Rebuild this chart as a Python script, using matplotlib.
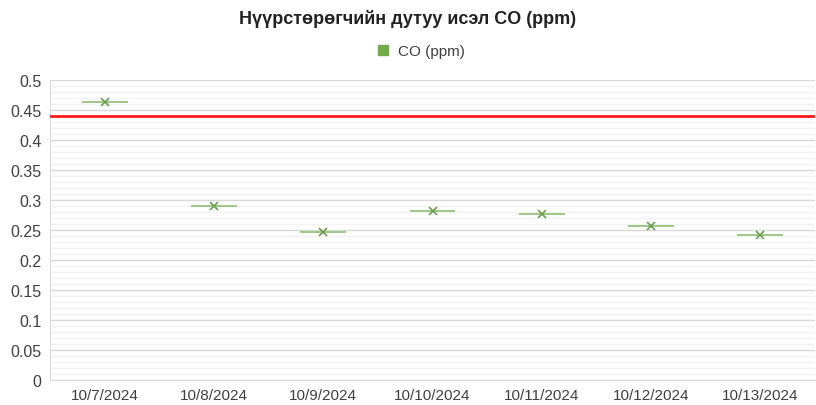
import matplotlib
matplotlib.use("Agg")
import matplotlib.pyplot as plt
import numpy as np
from matplotlib.lines import Line2D
from matplotlib.ticker import MultipleLocator

plt.rcParams["font.family"] = ["Liberation Sans", "DejaVu Sans"]

dates = ["10/7/2024", "10/8/2024", "10/9/2024", "10/10/2024",
         "10/11/2024", "10/12/2024", "10/13/2024"]
co_ppm = [0.463, 0.290, 0.247, 0.282, 0.277, 0.257, 0.242]
limit = 0.44
y_ticks = [0, 0.05, 0.1, 0.15, 0.2, 0.25, 0.3, 0.35, 0.4, 0.45, 0.5]

GREEN = "#70AD47"
LINE_GREEN = "#8DBF72"

fig = plt.figure(figsize=(8.16, 4.06), dpi=100)
ax = fig.add_axes([0.0613, 0.0616, 0.9375, 0.739])

x = np.arange(len(dates))
ax.hlines(co_ppm, x - 0.21, x + 0.21, color=LINE_GREEN, linewidth=1.2, zorder=3)
ax.plot(x, co_ppm, linestyle="none", marker="x", markersize=6,
        markeredgewidth=1.2, color="#6A9F50", zorder=4)
ax.axhline(limit, color="#FF1A1A", linewidth=2, zorder=5)

ax.set_xlim(-0.5, len(dates) - 0.5)
ax.set_ylim(0, 0.5)
ax.set_yticks(y_ticks)
ax.set_yticklabels([f"{v:g}" for v in y_ticks])
ax.yaxis.set_minor_locator(MultipleLocator(0.01))
ax.grid(which="major", axis="y", color="#D9D9D9", linewidth=1)
ax.grid(which="minor", axis="y", color="#F2F2F2", linewidth=1)
ax.set_axisbelow(True)

ax.set_xticks(x)
ax.set_xticklabels(dates)
ax.tick_params(axis="both", which="both", length=0, labelsize=11.5,
               labelcolor="#404040")
ax.tick_params(axis="x", pad=6, labelsize=11)
ax.tick_params(axis="y", pad=6)

for s in ["top", "right"]:
    ax.spines[s].set_visible(False)
ax.spines["left"].set_color("#D9D9D9")
ax.spines["bottom"].set_color("#D9D9D9")

fig.suptitle("Нүүрстөрөгчийн дутуу исэл CO (ppm)", x=0.5, y=0.975,
             fontsize=13, fontweight="bold", color="#222222")

handle = Line2D([], [], linestyle="none", marker="s", markersize=7,
                color=GREEN, label="CO (ppm)")
fig.legend(handles=[handle], loc="center", bbox_to_anchor=(0.51, 0.872),
           frameon=False, fontsize=11, handletextpad=0.0,
           labelcolor="#404040")

fig.savefig("out.png", dpi=100)
